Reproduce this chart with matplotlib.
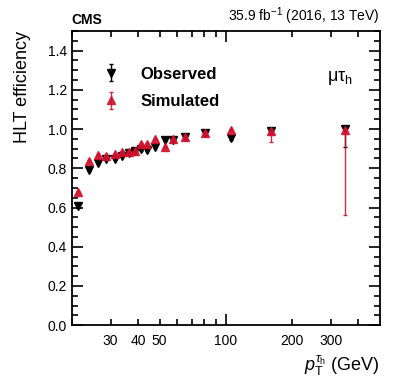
import matplotlib.pyplot as plt
from matplotlib.ticker import FixedLocator, FixedFormatter, MultipleLocator

plt.rcParams['font.family'] = ['Liberation Sans', 'DejaVu Sans']
plt.rcParams['mathtext.fontset'] = 'custom'
plt.rcParams['mathtext.rm'] = 'Liberation Sans'
plt.rcParams['mathtext.it'] = 'Liberation Sans:italic'

# tau pT bin centres (GeV)
pt = [21.3, 23.9, 26.4, 28.7, 31.4, 33.9, 36.3, 38.7, 41.4, 44.1, 47.6,
      52.7, 57.5, 65.0, 80.6, 105, 160, 348]
# observed (data) efficiency
obs = [0.606, 0.793, 0.828, 0.848, 0.848, 0.864, 0.877, 0.888, 0.896, 0.895,
       0.911, 0.946, 0.946, 0.962, 0.979, 0.956, 0.989, 1.0]
obs_lo = [0.008, 0.008, 0.007, 0.007, 0.007, 0.007, 0.007, 0.007, 0.008, 0.008,
          0.008, 0.008, 0.008, 0.008, 0.008, 0.01, 0.015, 0.09]
obs_hi = [0.008, 0.008, 0.007, 0.007, 0.007, 0.007, 0.007, 0.007, 0.008, 0.008,
          0.008, 0.008, 0.008, 0.008, 0.008, 0.01, 0.01, 0.0]
# simulated efficiency
sim = [0.679, 0.837, 0.869, 0.862, 0.874, 0.883, 0.884, 0.888, 0.922, 0.922,
       0.949, 0.908, 0.95, 0.962, 0.979, 0.996, 0.989, 0.996]
sim_lo = [0.006, 0.006, 0.006, 0.006, 0.006, 0.006, 0.006, 0.006, 0.006, 0.006,
          0.006, 0.006, 0.006, 0.006, 0.006, 0.006, 0.056, 0.432]
sim_hi = [0.006, 0.006, 0.006, 0.006, 0.006, 0.006, 0.006, 0.006, 0.006, 0.006,
          0.006, 0.006, 0.006, 0.006, 0.006, 0.004, 0.011, 0.004]

red = '#d2122e'

fig = plt.figure(figsize=(3.99, 3.83), dpi=100)
ax = fig.add_axes([0.180, 0.151, 0.772, 0.768])

ax.errorbar(pt, obs, yerr=[obs_lo, obs_hi], fmt='v', color='black', ms=5.5,
            elinewidth=1, capsize=1.5, label='Observed', zorder=3)
ax.errorbar(pt, sim, yerr=[sim_lo, sim_hi], fmt='^', color=red, ms=5.5,
            elinewidth=1, capsize=1.5, label='Simulated', zorder=4, alpha=0.9)

ax.set_xscale('log')
ax.set_xlim(20, 500)
ax.set_ylim(0, 1.5)

ax.xaxis.set_major_locator(FixedLocator([100]))
ax.xaxis.set_major_formatter(FixedFormatter(['100']))
minors = [20, 30, 40, 50, 60, 70, 80, 90, 200, 300, 400]
ax.xaxis.set_minor_locator(FixedLocator(minors))
ax.xaxis.set_minor_formatter(FixedFormatter(['', '30', '40', '50', '', '', '', '', '200', '300', '']))
ax.yaxis.set_major_locator(MultipleLocator(0.2))
ax.yaxis.set_minor_locator(MultipleLocator(0.05))
ax.yaxis.set_major_formatter(plt.FuncFormatter(lambda v, p: f'{v:.1f}'))

ax.tick_params(which='both', direction='in', top=True, right=True, labelsize=10, width=1.2)
ax.tick_params(which='major', length=8)
ax.tick_params(which='minor', length=4)
ax.tick_params(axis='x', which='both', pad=6)
for s in ax.spines.values():
    s.set_linewidth(1.3)

ax.set_ylabel('HLT efficiency', fontsize=13, loc='top', labelpad=12)
ax.set_xlabel(r'$p_\mathrm{T}^{\tau_\mathrm{h}}$ (GeV)', fontsize=13, loc='right')

ax.text(0.0, 1.012, 'CMS', transform=ax.transAxes, fontsize=10, fontweight='bold',
        ha='left', va='bottom')
ax.text(1.0, 1.012, r'35.9 fb$^{-1}$ (2016, 13 TeV)', transform=ax.transAxes,
        fontsize=10, ha='right', va='bottom')
ax.text(0.83, 0.84, 'μτ$_\\mathrm{h}$', transform=ax.transAxes, fontsize=13,
        ha='left', va='center')

leg = ax.legend(loc='upper left', bbox_to_anchor=(0.05, 0.93), frameon=False,
                prop={'weight': 'bold', 'size': 12}, handletextpad=1.3,
                labelspacing=0.75, handlelength=1.0)

fig.savefig('out.png', dpi=100)
